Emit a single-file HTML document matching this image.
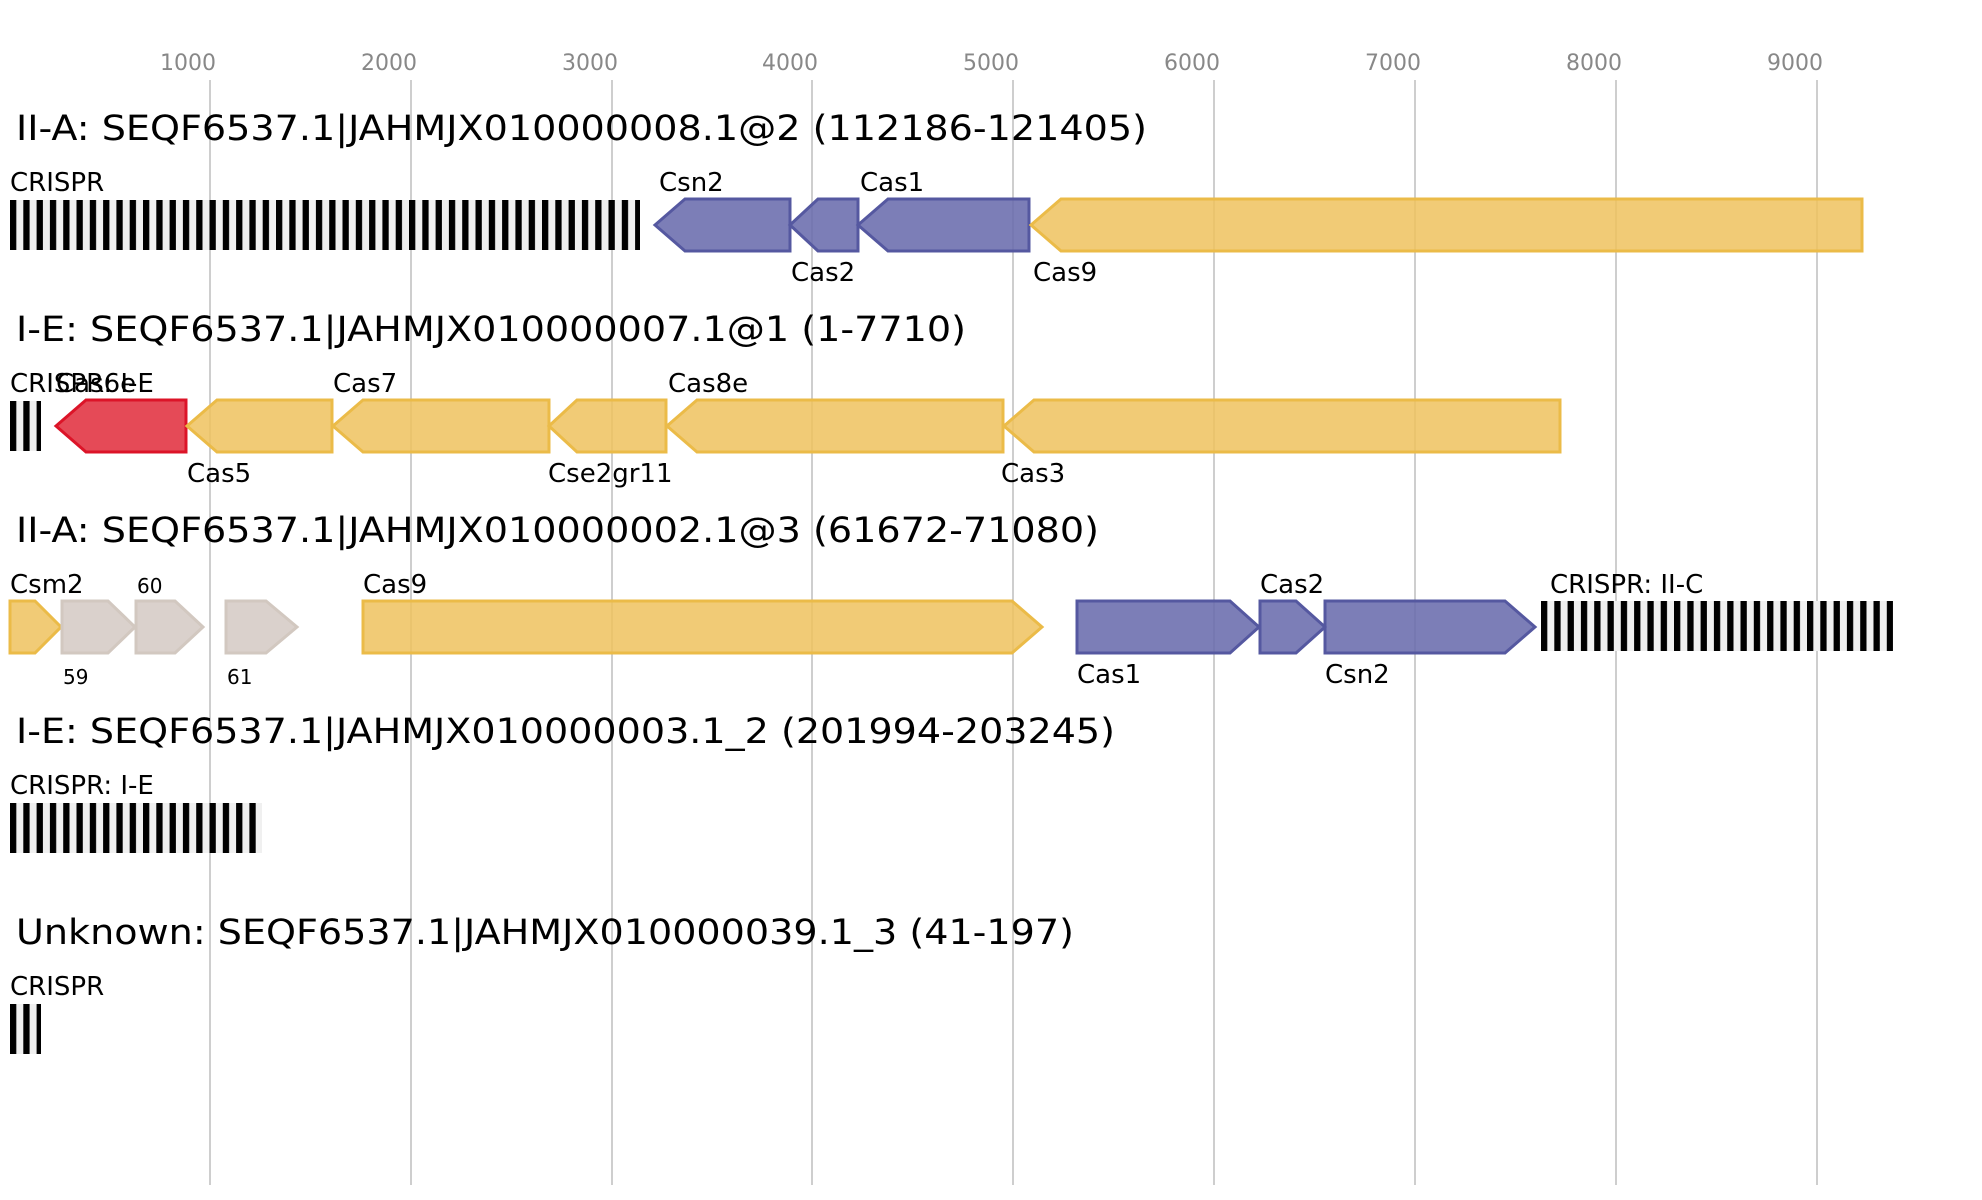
<!DOCTYPE html>
<html><head><meta charset="utf-8"><style>html,body{margin:0;padding:0;background:#fff}svg{display:block}</style></head>
<body>
<svg width="1982" height="1200" viewBox="0 0 1982 1200" xmlns="http://www.w3.org/2000/svg" font-family="'DejaVu Sans','Liberation Sans',sans-serif">
<defs>
<pattern id="cr" x="10" y="0" width="13.3" height="10" patternUnits="userSpaceOnUse">
<rect x="0" y="0" width="13.3" height="10" fill="#f0f0f0"/><rect x="0" y="0" width="6.3" height="10" fill="#000"/>
</pattern>
<pattern id="cr2" x="1541" y="0" width="13.3" height="10" patternUnits="userSpaceOnUse">
<rect x="0" y="0" width="13.3" height="10" fill="#f0f0f0"/><rect x="0" y="0" width="6.3" height="10" fill="#000"/>
</pattern>
</defs>
<g stroke="#bdbdbd" stroke-width="1.5">
<line x1="210" y1="80" x2="210" y2="1185"/><line x1="411" y1="80" x2="411" y2="1185"/><line x1="612" y1="80" x2="612" y2="1185"/><line x1="812" y1="80" x2="812" y2="1185"/><line x1="1013" y1="80" x2="1013" y2="1185"/><line x1="1214" y1="80" x2="1214" y2="1185"/><line x1="1415" y1="80" x2="1415" y2="1185"/><line x1="1616" y1="80" x2="1616" y2="1185"/><line x1="1817" y1="80" x2="1817" y2="1185"/>
</g>
<g fill="#888" font-size="22" text-anchor="middle">
<text x="188" y="70">1000</text><text x="389" y="70">2000</text><text x="590" y="70">3000</text><text x="790" y="70">4000</text><text x="991" y="70">5000</text><text x="1192" y="70">6000</text><text x="1393" y="70">7000</text><text x="1594" y="70">8000</text><text x="1795" y="70">9000</text>
</g>
<g font-size="35" fill="#000">
<text x="16" y="140" textLength="1131" lengthAdjust="spacingAndGlyphs">II-A: SEQF6537.1|JAHMJX010000008.1@2 (112186-121405)</text>
<text x="16" y="341" textLength="950" lengthAdjust="spacingAndGlyphs">I-E: SEQF6537.1|JAHMJX010000007.1@1 (1-7710)</text>
<text x="16" y="542" textLength="1083" lengthAdjust="spacingAndGlyphs">II-A: SEQF6537.1|JAHMJX010000002.1@3 (61672-71080)</text>
<text x="16" y="743" textLength="1099" lengthAdjust="spacingAndGlyphs">I-E: SEQF6537.1|JAHMJX010000003.1_2 (201994-203245)</text>
<text x="16" y="944" textLength="1058" lengthAdjust="spacingAndGlyphs">Unknown: SEQF6537.1|JAHMJX010000039.1_3 (41-197)</text>
</g>
<rect x="10" y="200" width="630" height="50" fill="url(#cr)"/>
<rect x="10" y="401" width="31" height="50" fill="url(#cr)"/>
<rect x="1541" y="601" width="352" height="50" fill="url(#cr2)"/>
<rect x="10" y="803" width="252" height="50" fill="url(#cr)"/>
<rect x="10" y="1004" width="31" height="50" fill="url(#cr)"/>
<g stroke-width="3" stroke-linejoin="miter">
<g fill="#6a6cad" fill-opacity="0.88" stroke="#5558a0">
<polygon points="655,225 685,199 790,199 790,251 685,251"/>
<polygon points="790,225 818,199 858,199 858,251 818,251"/>
<polygon points="858,225 888,199 1029,199 1029,251 888,251"/>
</g>
<polygon points="1031,225 1061,199 1862,199 1862,251 1061,251" fill="#efc25e" fill-opacity="0.85" stroke="#ebbb48"/>
<polygon points="56,426 86,400 186,400 186,452 86,452" fill="#e02a3a" fill-opacity="0.85" stroke="#dc1428"/>
<g fill="#efc25e" fill-opacity="0.85" stroke="#ebbb48">
<polygon points="187,426 217,400 332,400 332,452 217,452"/>
<polygon points="333,426 363,400 549,400 549,452 363,452"/>
<polygon points="549,426 577,400 666,400 666,452 577,452"/>
<polygon points="667,426 697,400 1003,400 1003,452 697,452"/>
<polygon points="1004,426 1034,400 1560,400 1560,452 1034,452"/>
</g>
<polygon points="10,601 35,601 61,627 35,653 10,653" fill="#efc25e" fill-opacity="0.85" stroke="#ebbb48"/>
<g fill="#d6ccc6" fill-opacity="0.9" stroke="#d2c8c0">
<polygon points="62,601 108,601 135,627 108,653 62,653"/>
<polygon points="136,601 175,601 203,627 175,653 136,653"/>
<polygon points="226,601 266,601 297,627 266,653 226,653"/>
</g>
<polygon points="363,601 1012,601 1042,627 1012,653 363,653" fill="#efc25e" fill-opacity="0.85" stroke="#ebbb48"/>
<g fill="#6a6cad" fill-opacity="0.88" stroke="#5558a0">
<polygon points="1077,601 1230,601 1259,627 1230,653 1077,653"/>
<polygon points="1260,601 1296,601 1325,627 1296,653 1260,653"/>
<polygon points="1325,601 1505,601 1535,627 1505,653 1325,653"/>
</g>
</g>
<g font-size="26" fill="#000">
<text x="10" y="191">CRISPR</text>
<text x="659" y="191">Csn2</text>
<text x="860" y="191">Cas1</text>
<text x="791" y="281">Cas2</text>
<text x="1033" y="281">Cas9</text>
<text x="10" y="392">CRISPR: I-E</text>
<text x="56" y="392">Cas6e</text>
<text x="333" y="392">Cas7</text>
<text x="668" y="392">Cas8e</text>
<text x="187" y="482">Cas5</text>
<text x="548" y="482">Cse2gr11</text>
<text x="1001" y="482">Cas3</text>
<text x="10" y="593">Csm2</text>
<text x="363" y="593">Cas9</text>
<text x="1260" y="593">Cas2</text>
<text x="1550" y="593">CRISPR: II-C</text>
<text x="1077" y="683">Cas1</text>
<text x="1325" y="683">Csn2</text>
<text x="10" y="794">CRISPR: I-E</text>
<text x="10" y="995">CRISPR</text>
</g>
<g font-size="20" fill="#000">
<text x="137" y="593">60</text>
<text x="63" y="684">59</text>
<text x="227" y="684">61</text>
</g>
</svg>
</body></html>
